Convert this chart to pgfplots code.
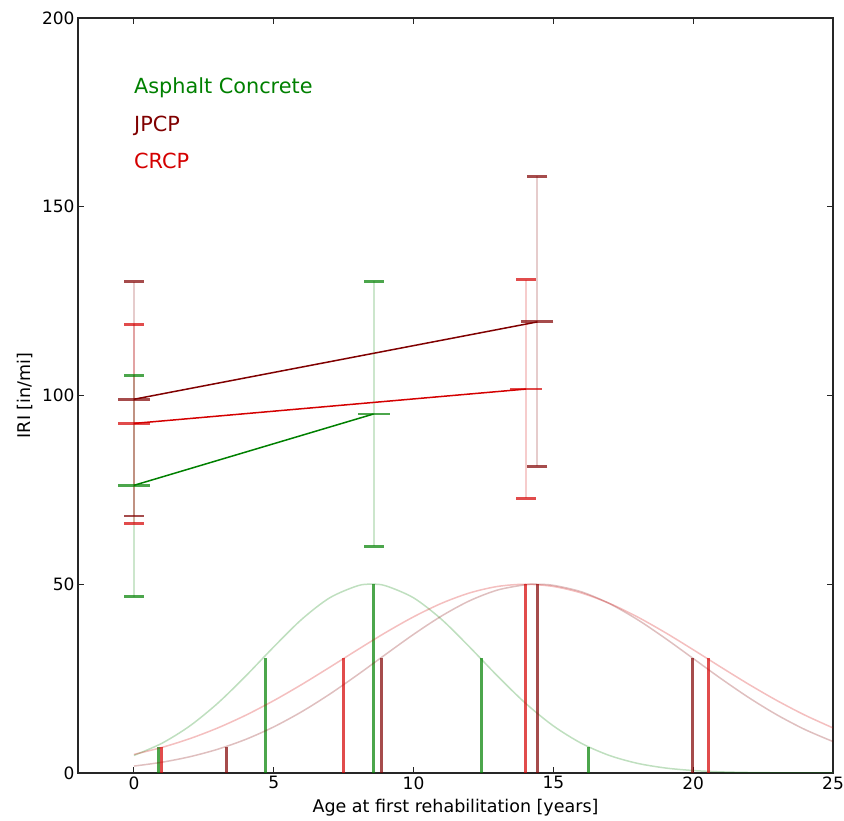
\documentclass[border=0pt]{standalone}
\usepackage{pgfplots}
\pgfplotsset{compat=1.18}
\usetikzlibrary{plotmarks}
\usepackage{fontspec}
\setmainfont{DejaVu Sans}
\definecolor{acg}{RGB}{0,128,0}
\definecolor{jpcp}{RGB}{128,0,0}
\definecolor{crcp}{RGB}{212,0,0}
\pgfplotsset{
  endcap/.style={only marks, mark=-, mark size=10pt, line width=2.8pt, opacity=0.7, mark options={solid, line width=2.8pt}},
  meancap/.style={only marks, mark=-, mark size=16pt, line width=2.8pt, opacity=0.7, mark options={solid, line width=2.8pt}},
  errline/.style={opacity=0.2, line width=2pt},
}
\begin{document}
\begin{tikzpicture}
\useasboundingbox (-78pt,-48pt) rectangle (766pt,773pt);
\begin{axis}[
  at={(0pt,0pt)}, anchor=south west,
  scale only axis, width=755pt, height=755pt,
  xmin=-2, xmax=25, ymin=0, ymax=200,
  xtick={0,5,...,25}, ytick={0,50,...,200},
  tick align=inside, major tick length=6pt,
  axis line style={black!85, line width=1.2pt},
  every tick/.style={black!85, line width=1pt},
  tick label style={font=\fontsize{17}{20}\selectfont},
  /pgf/number format/assume math mode=true,
  label style={font=\fontsize{17.5}{20}\selectfont},
  xlabel={Age at first rehabilitation [years]},
  ylabel={IRI [in/mi]},
  xlabel style={at={(axis description cs:0.5,-0.0464)}, anchor=center},
  ylabel style={at={(axis description cs:-0.0702,0.5)}, anchor=center},
]
% ---------- Asphalt Concrete ----------
\addplot[acg, opacity=0.25, line width=1.5pt, smooth] coordinates {
(0,4.65) (1,7.87) (2,12.47) (3,18.5) (4,25.7) (5,33.4) (6,40.7) (7,46.4) (8,49.6) (8.5,50)
(9,49.6) (10,46.4) (11,40.7) (12,33.4) (13,25.7) (14,18.5) (15,12.47) (16,7.87) (17,4.65)
(18,2.57) (19,1.33) (20,0.65) (21,0.29) (22,0.125) (23,0.05) (24,0.02) (25,0.007)};
\addplot[ycomb, acg, opacity=0.7, line width=3pt] coordinates {
(0.87,6.77) (4.70,30.33) (8.57,50) (12.43,30.33) (16.26,6.77)};
\addplot[acg, errline] coordinates {(0,46.7) (0,105.3)};
\addplot[acg, errline] coordinates {(8.57,60.1) (8.57,130.3)};
\addplot[acg, endcap] coordinates {(0,46.7) (0,105.3) (8.57,60.1) (8.57,130.3)};
\addplot[acg, meancap] coordinates {(0,76.2) (8.57,95.1)};
\addplot[acg, line width=1.5pt] coordinates {(0,76.2) (8.57,95.1)};
% ---------- JPCP ----------
\addplot[jpcp, opacity=0.25, line width=1.5pt, smooth] coordinates {
(0,1.83) (1,2.85) (2,4.31) (3,6.30) (4,8.91) (5,12.22) (6,16.23) (7,20.88) (8,26.02) (9,31.41)
(10,36.72) (11,41.58) (12,45.61) (13,48.46) (14,49.87) (14.4,50) (15,49.71) (16,48.0) (17,44.89)
(18,40.67) (19,35.68) (20,30.33) (21,24.97) (22,19.91) (23,15.38) (24,11.50) (25,8.33)};
\addplot[ycomb, jpcp, opacity=0.7, line width=3pt] coordinates {
(3.32,6.77) (8.87,30.33) (14.43,50) (19.98,30.33)};
\addplot[jpcp, errline] coordinates {(0,68.1) (0,130.1)};
\addplot[jpcp, errline] coordinates {(14.43,81.2) (14.43,158.1)};
\addplot[jpcp, endcap] coordinates {(0,68.1) (0,130.1) (14.43,81.2) (14.43,158.1)};
\addplot[jpcp, meancap] coordinates {(0,99.0) (14.43,119.5)};
\addplot[jpcp, line width=1.5pt] coordinates {(0,99.0) (14.43,119.5)};
% ---------- CRCP ----------
\addplot[crcp, opacity=0.25, line width=1.5pt, smooth] coordinates {
(0,4.92) (1,6.77) (2,9.10) (3,11.94) (4,15.31) (5,19.17) (6,23.44) (7,28.0) (8,32.66) (9,37.2)
(10,41.37) (11,44.95) (12,47.69) (13,49.41) (14,50) (15,49.41) (16,47.69) (17,44.95) (18,41.37)
(19,37.2) (20,32.66) (21,28.0) (22,23.44) (23,19.17) (24,15.31) (25,11.94)};
\addplot[ycomb, crcp, opacity=0.7, line width=3pt] coordinates {
(0.99,6.77) (7.51,30.33) (14.02,50) (20.54,30.33)};
\addplot[crcp, errline] coordinates {(0,66.1) (0,118.9)};
\addplot[crcp, errline] coordinates {(14.02,72.8) (14.02,130.7)};
\addplot[crcp, endcap] coordinates {(0,66.1) (0,118.9) (14.02,72.8) (14.02,130.7)};
\addplot[crcp, meancap] coordinates {(0,92.6) (14.02,101.7)};
\addplot[crcp, line width=1.5pt] coordinates {(0,92.6) (14.02,101.7)};
% ---------- text labels ----------
\node[anchor=base west, inner sep=0pt, text=acg, font=\fontsize{20.8}{24}\selectfont] at (axis cs:0,180) {Asphalt Concrete};
\node[anchor=base west, inner sep=0pt, text=jpcp, font=\fontsize{20.8}{24}\selectfont] at (axis cs:0,170) {JPCP};
\node[anchor=base west, inner sep=0pt, text=crcp, font=\fontsize{20.8}{24}\selectfont] at (axis cs:0,160) {CRCP};
\end{axis}
\end{tikzpicture}
\end{document}
